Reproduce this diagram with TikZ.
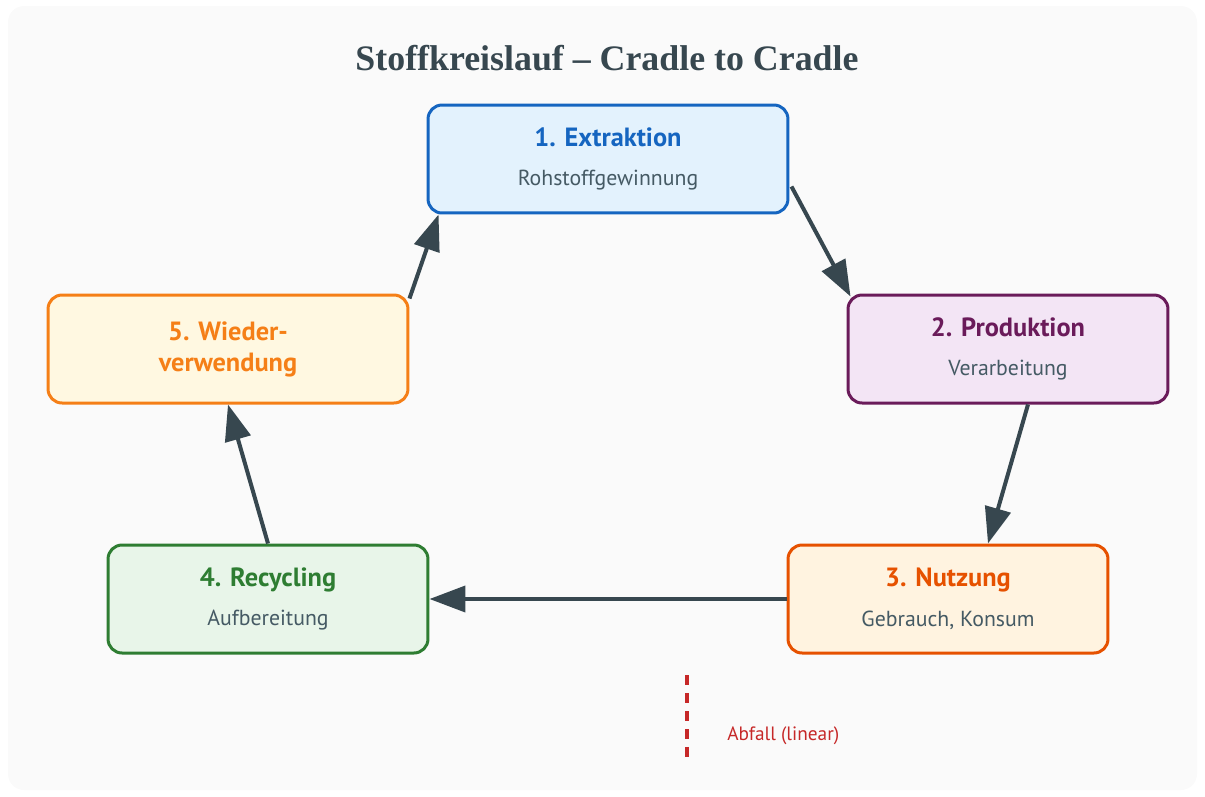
\documentclass[tikz,border=0pt]{standalone}
\usepackage{fontspec}
\setmainfont{PT Sans}
\newfontfamily\titlefont{Liberation Serif}
\usetikzlibrary{arrows.meta,calc}
\definecolor{bgcol}{HTML}{FAFAFA}
\definecolor{ink}{HTML}{37474F}
\definecolor{subink}{HTML}{455A64}
\definecolor{waste}{HTML}{C62828}
\definecolor{extline}{HTML}{1565C0}\definecolor{extfill}{HTML}{E3F2FD}
\definecolor{prodline}{HTML}{6A1B5A}\definecolor{prodfill}{HTML}{F3E5F5}
\definecolor{useline}{HTML}{E65100}\definecolor{usefill}{HTML}{FFF3E0}
\definecolor{recline}{HTML}{2E7D32}\definecolor{recfill}{HTML}{E8F5E9}
\definecolor{reuseline}{HTML}{F57F17}\definecolor{reusefill}{HTML}{FFF8E1}
\begin{document}
\begin{tikzpicture}[x=0.02cm,y=-0.02cm,line join=round,>={Triangle[length=0.72cm,width=0.52cm]},
  stage/.style={draw=#1line,fill=#1fill,text=#1line,line width=0.06cm,rounded corners=0.28cm,
    minimum height=2.16cm,minimum width=6.4cm,inner sep=0pt,align=center,
    font=\fontsize{15}{17.6}\selectfont\bfseries},
  flow/.style={->,draw=ink,line width=0.08cm}]
\def\sub#1{\\[5pt]{\fontsize{12.4}{14}\selectfont\mdseries\color{subink}#1}}
\useasboundingbox (0,0) rectangle (1205,796);
\fill[bgcol,rounded corners=0.32cm] (8,6) rectangle (1197,790);
\node[text=ink,font=\titlefont\fontsize{20.4}{24}\selectfont\bfseries] (title) at (607,58) {Stoffkreislauf – Cradle to Cradle};
\node[stage=ext,minimum width=7.2cm] (ext) at (608,159) {1. Extraktion\sub{Rohstoffgewinnung}};
\node[stage=prod] (prod) at (1008,349) {2. Produktion\sub{Verarbeitung}};
\node[stage=use] (use) at (948,599) {3. Nutzung\sub{Gebrauch, Konsum}};
\node[stage=rec] (rec) at (268,599) {4. Recycling\sub{Aufbereitung}};
\node[stage=reuse,minimum width=7.2cm] (reuse) at (228,349) {5. Wieder-\\verwendung};
% Kreislauf
\draw[flow] ($(ext.south east)+(2,-28)$) -- ($(prod.north west)+(4,3)$);
\draw[flow] ($(prod.south)+(20,0)$) -- ($(use.north)+(40,0)$);
\draw[flow] (use.west) -- (rec.east);
\draw[flow] (rec.north) -- (reuse.south);
\draw[flow] ($(reuse.north east)+(0,5)$) -- ($(ext.south west)+(12,0)$);
% Abfall
\coordinate (wastetop) at (687,675);
\coordinate (wastebot) at (687,757);
\draw[waste,line width=0.08cm,dash pattern=on 0.2cm off 0.16cm] (wastetop) -- (wastebot);
\node[anchor=west,text=waste,font=\fontsize{11}{13}\selectfont,inner sep=0pt] (wastelabel) at (727,736) {Abfall (linear)};
\end{tikzpicture}
\end{document}
